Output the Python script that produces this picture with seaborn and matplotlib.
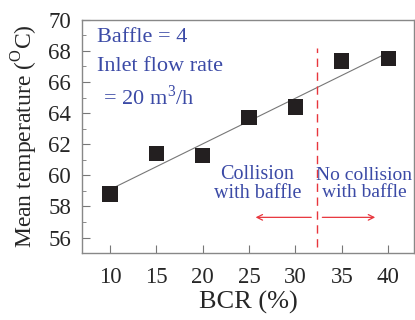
import numpy as np
import pandas as pd
import matplotlib
matplotlib.use("Agg")
import matplotlib.pyplot as plt
import seaborn as sns
from matplotlib.ticker import MultipleLocator

bcr = [10, 15, 20, 25, 30, 35, 40]
temp = [58.8, 61.4, 61.3, 63.7, 64.4, 67.35, 67.5]
x_ticks = [10, 15, 20, 25, 30, 35, 40]
y_ticks = [56, 58, 60, 62, 64, 66, 68, 70]

sns.set_style("ticks")
plt.rcParams['font.family'] = ['Liberation Serif', 'DejaVu Serif']
plt.rcParams['mathtext.fontset'] = 'custom'
plt.rcParams['mathtext.rm'] = 'Liberation Serif'

df = pd.DataFrame({"BCR": bcr, "T": temp})

fig = plt.figure(figsize=(4.15, 3.2), dpi=100)
ax = fig.add_axes([0.198, 0.209, 0.800, 0.729])

sns.regplot(data=df, x="BCR", y="T", scatter=False, ci=None, ax=ax,
            line_kws=dict(color="#777777", lw=0.8))
sns.scatterplot(data=df, x="BCR", y="T", marker="s", s=120, color="#231f20",
                edgecolor="none", ax=ax, zorder=3)

ax.set_xlim(7, 42.8)
ax.set_ylim(55, 70)
ax.set_xticks(x_ticks)
ax.set_yticks(y_ticks)
ax.yaxis.set_minor_locator(MultipleLocator(1))
ax.tick_params(axis='both', which='both', direction='in', color='#777777')
ax.tick_params(axis='both', which='major', length=6, labelsize=16.5)
ax.tick_params(axis='x', which='major', pad=10)
ax.tick_params(axis='y', which='major', pad=8)
ax.tick_params(axis='y', which='minor', length=3)
for s in ax.spines.values():
    s.set_color('#888888')
    s.set_linewidth(1.0)

ax.set_xlabel("BCR (%)", fontsize=19, labelpad=2)
ax.set_ylabel(r"Mean temperature ($^{\rm O}$C)", fontsize=17, labelpad=6)

blue = "#3b4aa6"
red = "#e8363d"
ax.text(8.6, 68.85, "Baffle = 4", color=blue, fontsize=16, va='center')
ax.text(8.6, 67.0, "Inlet flow rate", color=blue, fontsize=16, va='center')
ax.text(8.7, 65.0, r" = 20 m$^3$/h", color=blue, fontsize=16, va='center')

ax.plot([32.3, 32.3], [55.4, 68.2], color=red, lw=1.0, ls=(0, (6, 4)))
ax.text(25.9, 59.45, "Collision\nwith baffle", color=blue, fontsize=14.5,
        ha='center', va='center', linespacing=1.0)
ax.text(37.4, 59.45, "No collision\nwith baffle", color=blue, fontsize=14,
        ha='center', va='center', linespacing=1.05)
ax.annotate("", xy=(25.4, 57.3), xytext=(32.0, 57.3),
            arrowprops=dict(arrowstyle='->', color=red, lw=0.9))
ax.annotate("", xy=(38.9, 57.3), xytext=(32.6, 57.3),
            arrowprops=dict(arrowstyle='->', color=red, lw=0.9))

fig.savefig("out.png", dpi=100)
